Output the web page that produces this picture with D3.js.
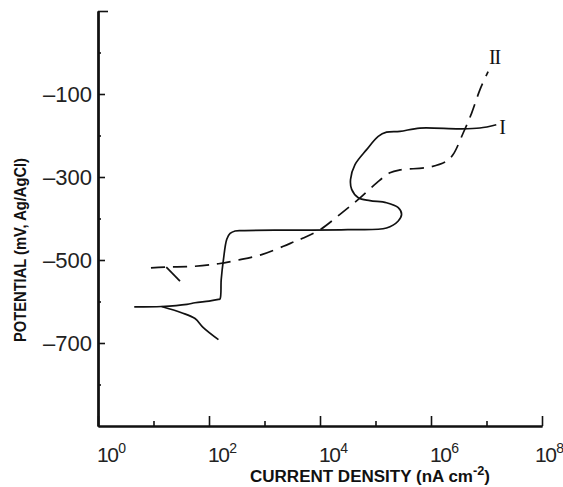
<!DOCTYPE html>
<html>
<head>
<meta charset="utf-8">
<script src="https://cdn.jsdelivr.net/npm/d3@7"></script>
<style>
  body { margin: 0; background: #fff; }
  svg { display: block; }
</style>
</head>
<body>
<div id="chart"></div>
<script>
// polarization curves, current density (nA cm-2) vs potential (mV)
const curveIMain = [
  [4.5, -613], [14, -612], [40, -607], [56, -603], [100, -599], [148, -595],
  [158, -594], [166, -547], [182, -499], [209, -450], [240, -436], [295, -430],
  [400, -429], [3200, -428], [31600, -427], [158000, -423], [257000, -406],
  [295000, -390], [257000, -374], [158000, -362], [79400, -357], [49000, -350],
  [37200, -330], [35500, -306], [42700, -270], [69200, -234], [112000, -202],
  [158000, -192], [275000, -190], [631000, -182], [3300000, -184],
  [7600000, -182], [15000000, -174]
];
const curveIBranch = [[14, -612], [32, -627], [56, -641], [79, -663], [148, -692]];

const curveIIMain = [
  [9, -519], [17, -517], [56, -515], [148, -509], [339, -500], [891, -487],
  [2190, -467], [3550, -455], [5010, -447], [10000, -427], [22900, -390],
  [49000, -354], [105000, -314], [182000, -290], [275000, -283], [955000, -276],
  [1900000, -262], [2500000, -246], [3800000, -194], [5400000, -146],
  [7600000, -90], [10700000, -46]
];
const curveIIBranch = [[17, -517], [30, -551]];

// axis ticks
const xMajorTicks = [1e0, 1e2, 1e4, 1e6, 1e8];
const xMajorExp = ["0", "2", "4", "6", "8"];
const xMinorTicks = [1e1, 1e3, 1e5, 1e7];
const yMajorTicks = [-100, -300, -500, -700];
const yMinorTicks = [0, -200, -400, -600, -800];

// curve labels
const curveLabels = [
  {text: "I", x: 1.9e7, y: -179},
  {text: "II", x: 1.4e7, y: -11}
];

const width = 563;
const height = 487;
const plotLeft = 98, plotRight = 542, plotTop = 11, plotBottom = 426;

const svg = d3.select("#chart").append("svg")
  .attr("width", width)
  .attr("height", height);

const x = d3.scaleLog().domain([1, 1e8]).range([plotLeft, plotRight]);
const y = d3.scaleLinear().domain([-900, 100]).range([plotBottom, plotTop]);

// AXES
function styleAxis(g) {
  g.select(".domain").attr("stroke", "#111").attr("stroke-width", 2);
  g.selectAll(".tick line").attr("stroke", "#111").attr("stroke-width", 1.6);
}

svg.append("g")
  .attr("transform", `translate(0,${plotBottom})`)
  .call(d3.axisBottom(x).tickValues(xMajorTicks).tickSize(-10).tickSizeOuter(0).tickFormat(""))
  .call(styleAxis);

svg.append("g")
  .attr("transform", `translate(0,${plotBottom})`)
  .call(d3.axisBottom(x).tickValues(xMinorTicks).tickSize(-5).tickSizeOuter(0).tickFormat(""))
  .call(styleAxis);

svg.append("g")
  .attr("transform", `translate(${plotLeft},0)`)
  .call(d3.axisLeft(y).tickValues(yMajorTicks).tickSize(-7).tickSizeOuter(0).tickPadding(6)
    .tickFormat(d => "\u2013" + Math.abs(d)))
  .call(styleAxis)
  .call(g => g.selectAll("text")
    .attr("font-family", "Liberation Sans, Arial, sans-serif")
    .attr("font-size", 22)
    .attr("fill", "#222"));

svg.append("g")
  .attr("transform", `translate(${plotLeft},0)`)
  .call(d3.axisLeft(y).tickValues(yMinorTicks).tickSize(-3).tickSizeOuter(0).tickFormat(""))
  .call(styleAxis);

// top corner tick
svg.append("g")
  .attr("transform", `translate(${plotLeft},0)`)
  .call(d3.axisLeft(y).tickValues([100]).tickSize(-10).tickSizeOuter(0).tickFormat(""))
  .call(styleAxis);

// x tick labels (10 with superscript), last one pulled in to fit
const xLabels = svg.append("g")
  .attr("font-family", "Liberation Sans, Arial, sans-serif")
  .attr("fill", "#222");

xMajorTicks.forEach((t, i) => {
  const shift = i === xMajorTicks.length - 1 ? -7 : -1;
  const txt = xLabels.append("text")
    .attr("x", x(t) + shift)
    .attr("y", plotBottom + 36)
    .attr("font-size", 21)
    .attr("letter-spacing", -1.5);
  txt.append("tspan").text("10");
  txt.append("tspan")
    .attr("font-size", 14)
    .attr("dx", 1)
    .attr("dy", -9)
    .text(xMajorExp[i]);
});

// axis titles
svg.append("text")
  .attr("x", 370)
  .attr("y", 482)
  .attr("text-anchor", "middle")
  .attr("font-family", "Liberation Sans, Arial, sans-serif")
  .attr("font-size", 16)
  .attr("font-weight", "bold")
  .attr("fill", "#111")
  .attr("textLength", 240)
  .attr("lengthAdjust", "spacingAndGlyphs")
  .call(t => {
    t.append("tspan").text("CURRENT DENSITY (nA cm");
    t.append("tspan").attr("font-size", 12).attr("dy", -7).text("-2");
    t.append("tspan").attr("dy", 7).text(")");
  });

svg.append("text")
  .attr("transform", "translate(26,250) rotate(-90)")
  .attr("text-anchor", "middle")
  .attr("font-family", "Liberation Sans, Arial, sans-serif")
  .attr("font-size", 16)
  .attr("font-weight", "bold")
  .attr("fill", "#111")
  .attr("textLength", 184)
  .attr("lengthAdjust", "spacingAndGlyphs")
  .text("POTENTIAL (mV, Ag/AgCl)");

// CURVES
const line = d3.line()
  .x(d => x(d[0]))
  .y(d => y(d[1]))
  .curve(d3.curveCatmullRom.alpha(0.5));

function drawCurve(data, dashed) {
  svg.append("path")
    .datum(data)
    .attr("d", line)
    .attr("fill", "none")
    .attr("stroke", "#111")
    .attr("stroke-width", 1.7)
    .attr("stroke-dasharray", dashed ? "14,8" : null);
}

drawCurve(curveIMain, false);
drawCurve(curveIBranch, false);
drawCurve(curveIIMain, true);
drawCurve(curveIIBranch, false);

// curve labels
svg.append("g")
  .selectAll("text")
  .data(curveLabels)
  .join("text")
    .attr("x", d => x(d.x))
    .attr("y", d => y(d.y))
    .attr("dy", "0.35em")
    .attr("text-anchor", "middle")
    .attr("font-family", "Liberation Serif, Times New Roman, serif")
    .attr("font-size", 20)
    .attr("letter-spacing", -1)
    .attr("fill", "#111")
    .text(d => d.text);
</script>
</body>
</html>
